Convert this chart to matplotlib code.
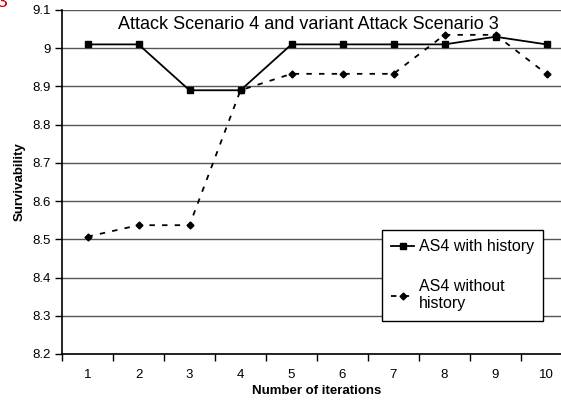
import numpy as np
import matplotlib.pyplot as plt
from matplotlib.ticker import FixedLocator, NullFormatter

iterations = [1, 2, 3, 4, 5, 6, 7, 8, 9, 10]
with_history = [9.01, 9.01, 8.89, 8.89, 9.01, 9.01, 9.01, 9.01, 9.03, 9.01]
without_history = [8.507, 8.537, 8.537, 8.89, 8.933, 8.933, 8.933, 9.035, 9.035, 8.933]
y_ticks = [8.2, 8.3, 8.4, 8.5, 8.6, 8.7, 8.8, 8.9, 9.0, 9.1]
y_labels = ['8.2', '8.3', '8.4', '8.5', '8.6', '8.7', '8.8', '8.9', '9', '9.1']

plt.rcParams['font.family'] = ['Liberation Sans', 'DejaVu Sans']

fig = plt.figure(figsize=(5.61, 4.0), dpi=100)
# axes runs past the right edge of the picture, as in the reference
ax = fig.add_axes([62 / 561, 46 / 400, 510 / 561, 344 / 400])

for y in y_ticks:
    ax.axhline(y, color='#555555', lw=1.0, zorder=1)

ax.plot(iterations, with_history, color='black', lw=1.3, marker='s', ms=5,
        label='AS4 with history', zorder=3)
ax.plot(iterations, without_history, color='black', lw=1.3, ls=(0, (3, 4)),
        marker='D', ms=3.5, label='AS4 without\nhistory', zorder=3)

ax.set_xlim(0.5, 10.5)
ax.set_ylim(8.2, 9.1)
ax.set_yticks(y_ticks)
ax.set_yticklabels(y_labels)
ax.set_xticks(iterations)
ax.xaxis.set_minor_locator(FixedLocator(np.arange(0.5, 10.6, 1.0)))
ax.xaxis.set_minor_formatter(NullFormatter())
ax.tick_params(axis='x', which='major', length=0, pad=11, labelsize=9.5)
ax.tick_params(axis='x', which='minor', length=5, width=1, direction='out')
ax.tick_params(axis='y', length=5, width=1, direction='out', labelsize=9.5, pad=3)

for side in ['top', 'right']:
    ax.spines[side].set_visible(False)
ax.spines['left'].set_linewidth(1.2)
ax.spines['bottom'].set_linewidth(1.2)

ax.set_xlabel('Number of iterations', fontsize=9.5, fontweight='bold', labelpad=3)
ax.set_ylabel('Survivability', fontsize=9.5, fontweight='bold', labelpad=5)

ax.text(5.33, 9.05, 'Attack Scenario 4 and variant Attack Scenario 3',
        ha='center', va='baseline', fontsize=13)

leg = ax.legend(loc='lower left', bbox_to_anchor=(0.627, 0.096), fontsize=11.5,
                fancybox=False, edgecolor='black', framealpha=1,
                handlelength=1.4, handletextpad=0.3, labelspacing=1.55,
                borderpad=0.6, borderaxespad=0)
leg.get_frame().set_linewidth(1.0)

fig.text(7 / 561, 1.015, '3', color='#d00000', fontsize=14, ha='right', va='top')

fig.savefig('out.png', dpi=100)
